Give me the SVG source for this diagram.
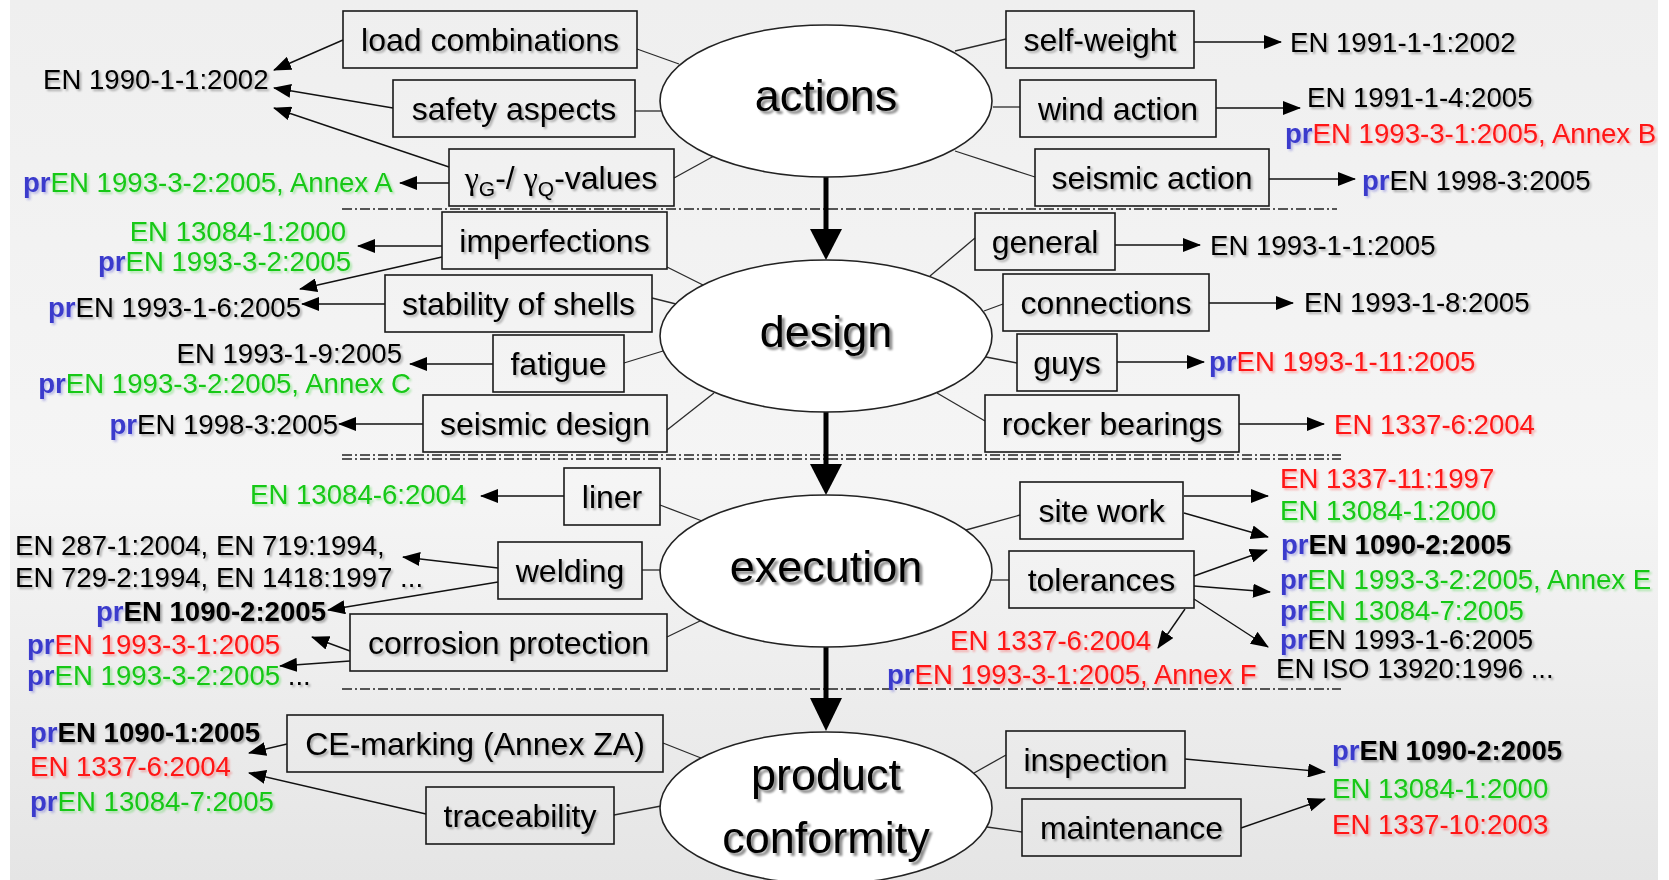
<svg xmlns="http://www.w3.org/2000/svg" width="1669" height="880" viewBox="0 0 1669 880">
  <defs>
    <linearGradient id="bg" x1="0" y1="0" x2="0" y2="1">
      <stop offset="0" stop-color="#efefef"/>
      <stop offset="0.55" stop-color="#f5f5f5"/>
      <stop offset="1" stop-color="#e5e5e5"/>
    </linearGradient>
    <!-- soft same-hue shadow under text -->
    <filter id="tshadow" x="-5%" y="-20%" width="110%" height="150%">
      <feGaussianBlur in="SourceGraphic" stdDeviation="0.8" result="b"/>
      <feOffset in="b" dx="1.5" dy="1.5" result="o"/>
      <feComponentTransfer in="o" result="s"><feFuncA type="linear" slope="0.3"/></feComponentTransfer>
      <feMerge><feMergeNode in="s"/><feMergeNode in="SourceGraphic"/></feMerge>
    </filter>
    <filter id="bshadow" x="-5%" y="-20%" width="110%" height="150%">
      <feGaussianBlur in="SourceAlpha" stdDeviation="1.2" result="b"/>
      <feOffset in="b" dx="2.5" dy="2.5" result="o"/>
      <feComponentTransfer in="o" result="s"><feFuncA type="linear" slope="0.45"/></feComponentTransfer>
      <feMerge><feMergeNode in="s"/><feMergeNode in="SourceGraphic"/></feMerge>
    </filter>
    <marker id="ah" markerUnits="userSpaceOnUse" markerWidth="18" markerHeight="14" refX="17" refY="7" orient="auto">
      <path d="M0,0 L18,7 L0,14 z" fill="#000"/>
    </marker>
  </defs>
  <style>
    .box{fill:none;stroke:#1a1a1a;stroke-width:1.6}
    .ell{fill:#fff;stroke:#222;stroke-width:1.6}
    .lbl{font-family:"Liberation Sans",Arial,sans-serif;font-size:32px;fill:#000;text-anchor:middle;filter:url(#tshadow)}
    .big{font-family:"Liberation Sans",Arial,sans-serif;font-size:45px;fill:#000;text-anchor:middle;filter:url(#bshadow)}
    .ref{font-family:"Liberation Sans",Arial,sans-serif;font-size:27.6px;fill:#000;filter:url(#tshadow)}
    .end{text-anchor:end}
    .pr{fill:#3a3acc;font-weight:bold}
    .g{fill:#16c816}
    .r{fill:#ff1414}
    .k{fill:#000}
    .b{font-weight:bold}
    .link{stroke:#2a2a2a;stroke-width:1.3;fill:none}
    .arr{stroke:#111;stroke-width:1.4;fill:none;marker-end:url(#ah)}
    .sep{stroke:#222;stroke-width:1.5;stroke-dasharray:10 3 2 3;fill:none}
    .flow{stroke:#000;stroke-width:5}
    .gam{font-family:"Liberation Serif",serif}
  </style>

  <rect x="0" y="0" width="1669" height="880" fill="#fff"/>
  <rect x="10" y="0" width="1648" height="880" fill="url(#bg)"/>

  <!-- section separators -->
  <g id="separators">
    <line class="sep" x1="342" y1="209" x2="1337" y2="209"/>
    <line class="sep" x1="342" y1="455" x2="1341" y2="455"/>
    <line class="sep" x1="342" y1="459" x2="1341" y2="459"/>
    <line class="sep" x1="342" y1="689" x2="1341" y2="689"/>
  </g>

  <g id="connectors">
    <!-- main flow between phases -->
    <line class="flow" x1="826" y1="177" x2="826" y2="231"/>
    <polygon points="810,229 842,229 826,260"/>
    <line class="flow" x1="826" y1="412" x2="826" y2="466"/>
    <polygon points="810,464 842,464 826,495"/>
    <line class="flow" x1="826" y1="647" x2="826" y2="700"/>
    <polygon points="810,698 842,698 826,731"/>

    <!-- actions: ellipse to topics -->
    <line class="link" x1="637" y1="49" x2="679" y2="64"/>
    <line class="link" x1="635" y1="111" x2="662" y2="111"/>
    <line class="link" x1="674" y1="178" x2="714" y2="156"/>
    <line class="link" x1="955" y1="51" x2="1006" y2="39"/>
    <line class="link" x1="993" y1="107" x2="1020" y2="107"/>
    <line class="link" x1="955" y1="151" x2="1035" y2="177"/>
    <!-- actions: topics to standards -->
    <line class="arr" x1="343" y1="40" x2="274" y2="70"/>
    <line class="arr" x1="393" y1="108" x2="274" y2="88"/>
    <line class="arr" x1="449" y1="167" x2="274" y2="108"/>
    <line class="arr" x1="449" y1="183" x2="400" y2="183"/>
    <line class="arr" x1="1194" y1="42" x2="1281" y2="42"/>
    <line class="arr" x1="1216" y1="108" x2="1300" y2="108"/>
    <line class="arr" x1="1269" y1="179" x2="1355" y2="179"/>

    <!-- design -->
    <line class="link" x1="667" y1="267" x2="703" y2="285"/>
    <line class="link" x1="652" y1="298" x2="680" y2="305"/>
    <line class="link" x1="624" y1="363" x2="663" y2="351"/>
    <line class="link" x1="667" y1="430" x2="714" y2="393"/>
    <line class="link" x1="975" y1="238" x2="930" y2="276"/>
    <line class="link" x1="1003" y1="304" x2="984" y2="311"/>
    <line class="link" x1="1017" y1="363" x2="986" y2="357"/>
    <line class="link" x1="985" y1="421" x2="937" y2="393"/>
    <line class="arr" x1="442" y1="246" x2="358" y2="246"/>
    <line class="arr" x1="442" y1="257" x2="300" y2="289"/>
    <line class="arr" x1="385" y1="304" x2="302" y2="304"/>
    <line class="arr" x1="493" y1="364" x2="410" y2="364"/>
    <line class="arr" x1="423" y1="424" x2="339" y2="424"/>
    <line class="arr" x1="1115" y1="245" x2="1200" y2="245"/>
    <line class="arr" x1="1209" y1="303" x2="1293" y2="303"/>
    <line class="arr" x1="1117" y1="362" x2="1204" y2="362"/>
    <line class="arr" x1="1239" y1="424" x2="1324" y2="424"/>

    <!-- execution -->
    <line class="link" x1="660" y1="505" x2="702" y2="521"/>
    <line class="link" x1="642" y1="570" x2="661" y2="570"/>
    <line class="link" x1="667" y1="637" x2="702" y2="620"/>
    <line class="link" x1="1020" y1="515" x2="966" y2="530"/>
    <line class="link" x1="1009" y1="580" x2="991" y2="580"/>
    <line class="arr" x1="564" y1="496" x2="481" y2="496"/>
    <line class="arr" x1="498" y1="568" x2="403" y2="557"/>
    <line class="arr" x1="498" y1="582" x2="328" y2="610"/>
    <line class="arr" x1="350" y1="651" x2="312" y2="637"/>
    <line class="arr" x1="350" y1="661" x2="280" y2="666"/>
    <line class="arr" x1="1184" y1="496" x2="1268" y2="496"/>
    <line class="arr" x1="1184" y1="513" x2="1268" y2="537"/>
    <line class="arr" x1="1194" y1="576" x2="1267" y2="550"/>
    <line class="arr" x1="1194" y1="586" x2="1270" y2="592"/>
    <line class="arr" x1="1194" y1="599" x2="1268" y2="647"/>
    <line class="arr" x1="1185" y1="609" x2="1158" y2="648"/>

    <!-- product conformity -->
    <line class="link" x1="663" y1="743" x2="701" y2="758"/>
    <line class="link" x1="614" y1="815" x2="661" y2="806"/>
    <line class="link" x1="1006" y1="755" x2="974" y2="773"/>
    <line class="link" x1="1022" y1="832" x2="987" y2="827"/>
    <line class="arr" x1="287" y1="744" x2="249" y2="753"/>
    <line class="arr" x1="426" y1="814" x2="249" y2="773"/>
    <line class="arr" x1="1185" y1="759" x2="1325" y2="772"/>
    <line class="arr" x1="1241" y1="828" x2="1325" y2="799"/>
  </g>

  <!-- phases -->
  <g id="actions"><ellipse class="ell" cx="826" cy="101" rx="166" ry="76"/><text class="big" x="826" y="111">actions</text></g>
  <g id="design"><ellipse class="ell" cx="826" cy="336" rx="166" ry="76"/><text class="big" x="826" y="347">design</text></g>
  <g id="execution"><ellipse class="ell" cx="826" cy="571" rx="166" ry="76"/><text class="big" x="826" y="582">execution</text></g>
  <g id="product-conformity"><ellipse class="ell" cx="826" cy="808" rx="166" ry="76"/><text class="big" x="826" y="790">product</text><text class="big" x="826" y="853">conformity</text></g>

  <!-- topics -->
  <g id="load-combinations"><rect class="box" x="343" y="11" width="294" height="57"/><text class="lbl" x="490" y="51">load combinations</text></g>
  <g id="safety-aspects"><rect class="box" x="393" y="80" width="242" height="57"/><text class="lbl" x="514" y="120">safety aspects</text></g>
  <g id="gamma-values"><rect class="box" x="449" y="149" width="225" height="57"/><text class="lbl" x="561" y="189"><tspan class="gam">γ</tspan><tspan font-size="21" dy="7">G</tspan><tspan dy="-7">-/ </tspan><tspan class="gam">γ</tspan><tspan font-size="21" dy="7">Q</tspan><tspan dy="-7">-values</tspan></text></g>
  <g id="self-weight"><rect class="box" x="1006" y="11" width="188" height="57"/><text class="lbl" x="1100" y="51">self-weight</text></g>
  <g id="wind-action"><rect class="box" x="1020" y="80" width="196" height="57"/><text class="lbl" x="1118" y="120">wind action</text></g>
  <g id="seismic-action"><rect class="box" x="1035" y="149" width="234" height="57"/><text class="lbl" x="1152" y="189">seismic action</text></g>

  <g id="imperfections"><rect class="box" x="442" y="212" width="225" height="57"/><text class="lbl" x="554.5" y="252">imperfections</text></g>
  <g id="stability-of-shells"><rect class="box" x="385" y="275" width="267" height="57"/><text class="lbl" x="518.5" y="315">stability of shells</text></g>
  <g id="fatigue"><rect class="box" x="493" y="335" width="131" height="57"/><text class="lbl" x="558.5" y="375">fatigue</text></g>
  <g id="seismic-design"><rect class="box" x="423" y="395" width="244" height="57"/><text class="lbl" x="545" y="435">seismic design</text></g>
  <g id="general"><rect class="box" x="975" y="213" width="140" height="57"/><text class="lbl" x="1045" y="253">general</text></g>
  <g id="connections"><rect class="box" x="1003" y="274" width="206" height="57"/><text class="lbl" x="1106" y="314">connections</text></g>
  <g id="guys"><rect class="box" x="1017" y="334" width="100" height="57"/><text class="lbl" x="1067" y="374">guys</text></g>
  <g id="rocker-bearings"><rect class="box" x="985" y="395" width="254" height="57"/><text class="lbl" x="1112" y="435">rocker bearings</text></g>

  <g id="liner"><rect class="box" x="564" y="468" width="96" height="57"/><text class="lbl" x="612" y="508">liner</text></g>
  <g id="welding"><rect class="box" x="498" y="542" width="144" height="57"/><text class="lbl" x="570" y="582">welding</text></g>
  <g id="corrosion-protection"><rect class="box" x="350" y="614" width="317" height="57"/><text class="lbl" x="508.5" y="654">corrosion protection</text></g>
  <g id="site-work"><rect class="box" x="1020" y="482" width="163" height="57"/><text class="lbl" x="1101.5" y="522">site work</text></g>
  <g id="tolerances"><rect class="box" x="1009" y="551" width="185" height="57"/><text class="lbl" x="1101.5" y="591">tolerances</text></g>

  <g id="ce-marking"><rect class="box" x="287" y="715" width="376" height="57"/><text class="lbl" x="475" y="755">CE-marking (Annex ZA)</text></g>
  <g id="traceability"><rect class="box" x="426" y="787" width="188" height="57"/><text class="lbl" x="520" y="827">traceability</text></g>
  <g id="inspection"><rect class="box" x="1006" y="731" width="179" height="57"/><text class="lbl" x="1095.5" y="771">inspection</text></g>
  <g id="maintenance"><rect class="box" x="1022" y="799" width="219" height="57"/><text class="lbl" x="1131.5" y="839">maintenance</text></g>

  <!-- standards: actions -->
  <g id="std-en1990"><text class="ref" x="43" y="89">EN 1990-1-1:2002</text></g>
  <g id="std-actions-annexA"><text class="ref" x="23" y="192"><tspan class="pr">pr</tspan><tspan class="g">EN 1993-3-2:2005, Annex A</tspan></text></g>
  <g id="std-en1991-1-1"><text class="ref" x="1290" y="52">EN 1991-1-1:2002</text></g>
  <g id="std-wind"><text class="ref" x="1307" y="107">EN 1991-1-4:2005</text><text class="ref" x="1285" y="143"><tspan class="pr">pr</tspan><tspan class="r">EN 1993-3-1:2005, Annex B</tspan></text></g>
  <g id="std-seismic-action"><text class="ref" x="1362" y="190"><tspan class="pr">pr</tspan>EN 1998-3:2005</text></g>

  <!-- standards: design -->
  <g id="std-imperfections"><text class="ref end g" x="346" y="241">EN 13084-1:2000</text><text class="ref end" x="351" y="271"><tspan class="pr">pr</tspan><tspan class="g">EN 1993-3-2:2005</tspan></text></g>
  <g id="std-shells"><text class="ref end" x="301" y="317"><tspan class="pr">pr</tspan>EN 1993-1-6:2005</text></g>
  <g id="std-fatigue"><text class="ref end" x="402" y="363">EN 1993-1-9:2005</text><text class="ref end" x="411" y="393"><tspan class="pr">pr</tspan><tspan class="g">EN 1993-3-2:2005, Annex C</tspan></text></g>
  <g id="std-seismic-design"><text class="ref end" x="338" y="434"><tspan class="pr">pr</tspan>EN 1998-3:2005</text></g>
  <g id="std-general"><text class="ref" x="1210" y="255">EN 1993-1-1:2005</text></g>
  <g id="std-connections"><text class="ref" x="1304" y="312">EN 1993-1-8:2005</text></g>
  <g id="std-guys"><text class="ref" x="1209" y="371"><tspan class="pr">pr</tspan><tspan class="r">EN 1993-1-11:2005</tspan></text></g>
  <g id="std-rocker"><text class="ref r" x="1334" y="434">EN 1337-6:2004</text></g>

  <!-- standards: execution -->
  <g id="std-liner"><text class="ref g" x="250" y="504">EN 13084-6:2004</text></g>
  <g id="std-welding"><text class="ref" x="15" y="555">EN 287-1:2004, EN 719:1994,</text><text class="ref" x="15" y="587">EN 729-2:1994, EN 1418:1997 ...</text></g>
  <g id="std-en1090-2-left"><text class="ref end" x="326" y="621"><tspan class="pr">pr</tspan><tspan class="b">EN 1090-2:2005</tspan></text></g>
  <g id="std-corrosion"><text class="ref" x="27" y="654"><tspan class="pr">pr</tspan><tspan class="r">EN 1993-3-1:2005</tspan></text><text class="ref" x="27" y="685"><tspan class="pr">pr</tspan><tspan class="g">EN 1993-3-2:2005</tspan> ...</text></g>
  <g id="std-site-work"><text class="ref r" x="1280" y="488">EN 1337-11:1997</text><text class="ref g" x="1280" y="520">EN 13084-1:2000</text></g>
  <g id="std-tolerances">
    <text class="ref" x="1281" y="554"><tspan class="pr">pr</tspan><tspan class="b">EN 1090-2:2005</tspan></text>
    <text class="ref" x="1280" y="589"><tspan class="pr">pr</tspan><tspan class="g">EN 1993-3-2:2005, Annex E</tspan></text>
    <text class="ref" x="1280" y="620"><tspan class="pr">pr</tspan><tspan class="g">EN 13084-7:2005</tspan></text>
    <text class="ref" x="1280" y="649"><tspan class="pr">pr</tspan>EN 1993-1-6:2005</text>
    <text class="ref" x="1276" y="678">EN ISO 13920:1996 ...</text>
    <text class="ref end r" x="1151" y="650">EN 1337-6:2004</text>
    <text class="ref" x="887" y="684"><tspan class="pr">pr</tspan><tspan class="r">EN 1993-3-1:2005, Annex F</tspan></text>
  </g>

  <!-- standards: product conformity -->
  <g id="std-ce-marking"><text class="ref" x="30" y="742"><tspan class="pr">pr</tspan><tspan class="b">EN 1090-1:2005</tspan></text><text class="ref r" x="30" y="776">EN 1337-6:2004</text><text class="ref" x="30" y="811"><tspan class="pr">pr</tspan><tspan class="g">EN 13084-7:2005</tspan></text></g>
  <g id="std-inspection"><text class="ref" x="1332" y="760"><tspan class="pr">pr</tspan><tspan class="b">EN 1090-2:2005</tspan></text><text class="ref g" x="1332" y="798">EN 13084-1:2000</text><text class="ref r" x="1332" y="834">EN 1337-10:2003</text></g>
</svg>
